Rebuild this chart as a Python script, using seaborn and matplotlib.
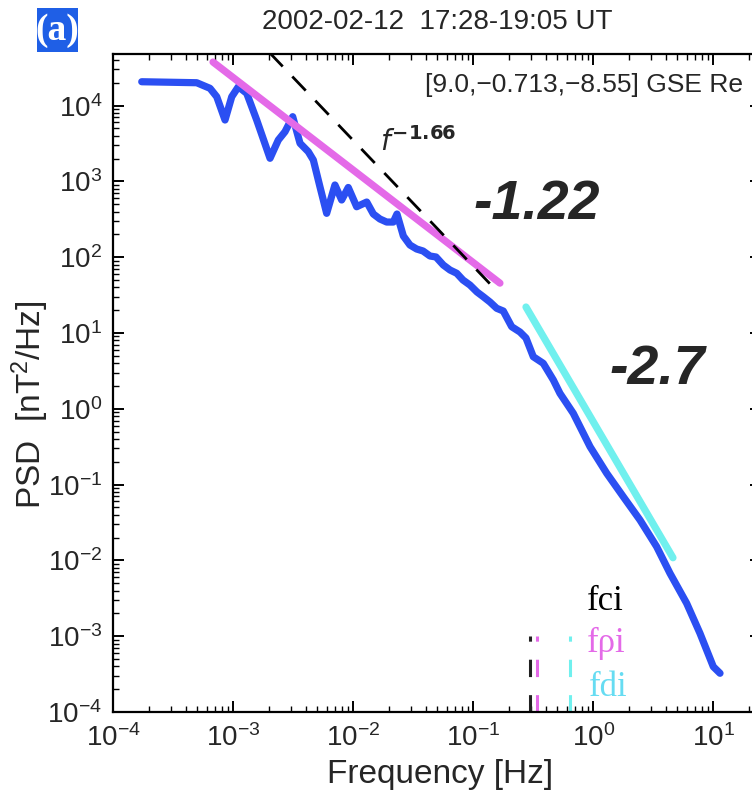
import numpy as np
import pandas as pd
import matplotlib
matplotlib.use("Agg")
import matplotlib.pyplot as plt
from matplotlib.patches import Rectangle
import seaborn as sns

# ---------------- data ----------------
log_freq = [-3.763, -3.305, -3.194, -3.138, -3.069, -3.013, -2.958, -2.888, -2.805,
            -2.694, -2.625, -2.569, -2.505, -2.444, -2.375, -2.333, -2.278, -2.222,
            -2.153, -2.097, -2.042, -1.972, -1.888, -1.833, -1.778, -1.722, -1.667,
            -1.636, -1.583, -1.528, -1.472, -1.419, -1.361, -1.311, -1.250, -1.194,
            -1.138, -1.086, -1.028, -0.969, -0.917, -0.861, -0.805, -0.750, -0.680,
            -0.611, -0.561, -0.500, -0.417, -0.333, -0.278, -0.167, -0.027, 0.112,
            0.250, 0.389, 0.528, 0.639, 0.778, 0.889, 1.000, 1.056]
log_psd = [4.315, 4.302, 4.228, 4.117, 3.810, 4.117, 4.249, 4.162, 3.810,
           3.305, 3.546, 3.656, 3.854, 3.503, 3.392, 3.282, 2.930, 2.579,
           2.953, 2.755, 2.920, 2.666, 2.728, 2.570, 2.504, 2.464, 2.464,
           2.570, 2.280, 2.161, 2.108, 2.082, 2.016, 2.003, 1.897, 1.831,
           1.788, 1.699, 1.633, 1.541, 1.479, 1.409, 1.326, 1.290, 1.083,
           1.013, 0.934, 0.687, 0.600, 0.380, 0.204, -0.059, -0.500, -0.851,
           -1.160, -1.467, -1.819, -2.170, -2.566, -2.962, -3.402, -3.489]

fit_low_logf = [-3.169, -0.778]      # slope -1.22
fit_low_logp = [4.575, 1.658]
fit_high_logf = [-0.561, 0.664]      # slope -2.7
fit_high_logp = [1.343, -1.965]
ref_logf = [-2.70, -0.861]           # f^-1.66
ref_logp = [4.702, 1.649]

f_ci, f_rhoi, f_di = 0.297, 0.337, 0.64
marker_span = [1e-4, 1e-3]

title = "2002-02-12  17:28-19:05 UT"
position_text = "[9.0,\u22120.713,\u22128.55] GSE Re"
slope_low_label = "-1.22"
slope_high_label = "-2.7"

# ---------------- style ----------------
sns.set_style("ticks")
plt.rcParams["font.family"] = ["Liberation Sans", "DejaVu Sans"]
plt.rcParams["mathtext.default"] = "regular"
plt.rcParams["lines.scale_dashes"] = False

BLUE = "#2b4ff2"
MAGENTA = "#e46ae8"
CYAN = "#70f0ee"

W, H = 752, 795
fig = plt.figure(figsize=(W / 100, H / 100), dpi=100)
ax = fig.add_axes([113.3 / W, 83 / H, 648 / W, 657.7 / H])
ax.set_xscale("log")
ax.set_yscale("log")

def px(x, y):
    return x / W, 1 - y / H

df = pd.DataFrame({"f": np.power(10.0, log_freq), "psd": np.power(10.0, log_psd)})
sns.lineplot(data=df, x="f", y="psd", ax=ax, color=BLUE, lw=5.2,
             estimator=None, sort=False, legend=False, solid_capstyle="round",
             solid_joinstyle="round")

ax.plot(np.power(10.0, fit_low_logf), np.power(10.0, fit_low_logp), color=MAGENTA, lw=5.2)
ax.plot(np.power(10.0, fit_high_logf), np.power(10.0, fit_high_logp), color=CYAN, lw=5.2)
ax.plot(np.power(10.0, ref_logf), np.power(10.0, ref_logp), color="black", lw=2.0,
        linestyle=(0, (14, 10)))

for fv, col in [(f_ci, "#202020"), (f_rhoi, MAGENTA), (f_di, CYAN)]:
    ax.plot([fv, fv], marker_span, color=col, lw=2.2, linestyle=(0, (12.5, 13)))

ax.set_xlim(1e-4, 10 ** 1.4)
ax.set_ylim(1e-4, 10 ** 4.677)
ax.set_xticks([1e-4, 1e-3, 1e-2, 1e-1, 1e0, 1e1])
ax.set_yticks([10.0 ** k for k in range(-4, 5)])
ax.tick_params(which="both", direction="in", top=True, right=True, color="black")
ax.tick_params(which="major", length=8, width=1.4, labelsize=20)
ax.tick_params(which="minor", length=4, width=1.0)
ax.tick_params(axis="x", which="major", pad=9)
ax.tick_params(axis="y", which="major", pad=8)
for s in ax.spines.values():
    s.set_linewidth(1.6)
    s.set_color("black")
ax.set_xlabel("")
ax.set_ylabel("")

fig.text(*px(440, 775), "Frequency [Hz]", ha="center", va="center", fontsize=24)
fig.text(*px(30, 405), "PSD  [nT$^2$/Hz]", ha="center", va="center", fontsize=24,
         rotation=90)
fig.text(*px(437, 22), title, ha="center", va="center", fontsize=20)

fig.patches.append(Rectangle(px(37, 52), 41 / W, 44 / H, transform=fig.transFigure,
                             facecolor="#1f5fe6", edgecolor="none"))
fig.text(*px(57.5, 30), "(a)", ha="center", va="center", fontsize=27, color="white",
         family="Liberation Serif", weight="bold")

fig.text(*px(425, 85), position_text, ha="left", va="center", fontsize=19)
fig.text(*px(380, 142), "$\\it{f}^{\\bf{\u22121.66}}$", ha="left", va="center", fontsize=20)
fig.text(*px(537, 205), slope_low_label, ha="center", va="center", fontsize=40,
         weight="bold", style="italic")
fig.text(*px(657, 370), slope_high_label, ha="center", va="center", fontsize=40,
         weight="bold", style="italic")

fig.text(*px(587, 601), "fci", ha="left", va="center", fontsize=25,
         family="Liberation Serif", color="black")
fig.text(*px(587, 643), "f\u03c1i", ha="left", va="center", fontsize=25,
         family="Liberation Serif", color=MAGENTA)
fig.text(*px(589, 688), "fdi", ha="left", va="center", fontsize=25,
         family="Liberation Serif", color="#66dcf2")

fig.savefig("out.png", dpi=100)
